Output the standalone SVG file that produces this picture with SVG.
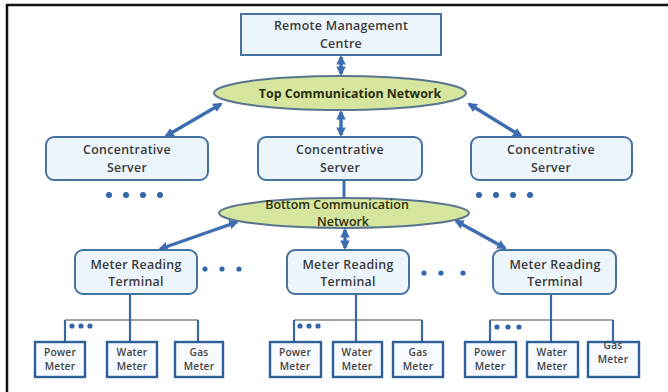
<svg xmlns="http://www.w3.org/2000/svg" width="668" height="392" viewBox="0 0 668 392">
  <defs>
    <marker id="head" viewBox="0 0 10 10" refX="8" refY="5" markerWidth="2.8" markerHeight="2.8" orient="auto-start-reverse" markerUnits="strokeWidth">
      <path d="M0,0 L10,5 L0,10 z" fill="#3d6db0"/>
    </marker>
    <style>
      .frame { stroke: #111; stroke-width: 2.5; fill: none; }
      .box { fill: #edf5fc; stroke: #46729f; stroke-width: 2; }
      .net { fill: #d7e69f; stroke: #5a7590; stroke-width: 2; }
      .meter { fill: #f7fbff; stroke: #2f5f98; stroke-width: 2.4; }
      .lbl { font-family: "Open Sans", "Liberation Sans", sans-serif; font-size: 12.4px; font-weight: 600; letter-spacing: 0.3px; fill: #3a3a3a; text-anchor: middle; }
      .net-lbl { font-family: "Open Sans", "Liberation Sans", sans-serif; font-size: 12.4px; font-weight: 700; fill: #2c2f10; text-anchor: middle; }
      .small { font-family: "Open Sans", "Liberation Sans", sans-serif; font-size: 10.2px; font-weight: 600; letter-spacing: 0.2px; fill: #444; text-anchor: middle; }
      .link { stroke: #3d6db0; stroke-width: 3.4; fill: none; marker-start: url(#head); marker-end: url(#head); }
      .plain { stroke: #3d6db0; stroke-width: 3; fill: none; }
      .drop { stroke: #3a68a4; stroke-width: 2.2; fill: none; }
      .bus { stroke: #a4a4a4; stroke-width: 2; fill: none; }
      .dot { fill: #3366aa; }
    </style>
  </defs>

  <rect width="668" height="392" fill="#ffffff"/>
  <!-- page frame -->
  <path class="frame" d="M7,392 V5 H668"/>

  <!-- connectors -->
  <g id="connectors">
    <line class="link" x1="341" y1="57" x2="341" y2="74"/>
    <line class="link" x1="221" y1="104" x2="166" y2="136"/>
    <line class="link" x1="341" y1="112" x2="341" y2="135"/>
    <line class="link" x1="469" y1="104" x2="521" y2="136"/>
    <line class="plain" x1="344" y1="181" x2="344" y2="198"/>
    <line class="link" x1="237" y1="222" x2="160" y2="249"/>
    <line class="link" x1="345" y1="230" x2="345" y2="248"/>
    <line class="link" x1="456" y1="221" x2="505" y2="248"/>

    <!-- meter buses, left group -->
    <line class="bus" x1="65" y1="320" x2="198" y2="320"/>
    <line class="drop" x1="130" y1="294" x2="130" y2="342"/>
    <line class="drop" x1="65" y1="320" x2="65" y2="342"/>
    <line class="drop" x1="198" y1="320" x2="198" y2="342"/>
    <!-- middle group -->
    <line class="bus" x1="294" y1="320" x2="422" y2="320"/>
    <line class="drop" x1="356" y1="294" x2="356" y2="342"/>
    <line class="drop" x1="294" y1="320" x2="294" y2="342"/>
    <line class="drop" x1="422" y1="320" x2="422" y2="342"/>
    <!-- right group -->
    <line class="bus" x1="490" y1="320" x2="613" y2="320"/>
    <line class="drop" x1="551" y1="294" x2="551" y2="342"/>
    <line class="drop" x1="490" y1="320" x2="490" y2="342"/>
    <line class="drop" x1="613" y1="320" x2="613" y2="342"/>
  </g>

  <!-- top level -->
  <g id="remote-management">
    <rect class="box" x="241" y="14" width="200" height="41"/>
    <text class="lbl" x="341" y="30">Remote Management</text>
    <text class="lbl" x="341" y="48">Centre</text>
  </g>

  <g id="top-network">
    <ellipse class="net" cx="340" cy="93" rx="126" ry="17"/>
    <text class="net-lbl" x="350" y="98">Top Communication  Network</text>
  </g>

  <!-- concentrative servers -->
  <g id="server-left">
    <rect class="box" x="46" y="137" width="162" height="43" rx="8"/>
    <text class="lbl" x="127" y="154">Concentrative</text>
    <text class="lbl" x="127" y="172">Server</text>
  </g>
  <g id="server-middle">
    <rect class="box" x="258" y="137" width="164" height="43" rx="8"/>
    <text class="lbl" x="340" y="154">Concentrative</text>
    <text class="lbl" x="340" y="172">Server</text>
  </g>
  <g id="server-right">
    <rect class="box" x="471" y="137" width="161" height="43" rx="8"/>
    <text class="lbl" x="551" y="154">Concentrative</text>
    <text class="lbl" x="551" y="172">Server</text>
  </g>

  <g id="server-dots-left">
    <circle class="dot" cx="109" cy="195" r="3"/>
    <circle class="dot" cx="126" cy="195" r="3"/>
    <circle class="dot" cx="143" cy="195" r="3"/>
    <circle class="dot" cx="160" cy="195" r="3"/>
  </g>
  <g id="server-dots-right">
    <circle class="dot" cx="479" cy="195" r="3"/>
    <circle class="dot" cx="496" cy="195" r="3"/>
    <circle class="dot" cx="513" cy="195" r="3"/>
    <circle class="dot" cx="530" cy="195" r="3"/>
  </g>

  <g id="bottom-network">
    <ellipse class="net" cx="344" cy="213" rx="125" ry="15"/>
    <text class="net-lbl" x="337" y="209" style="font-weight:600">Bottom Communication</text>
    <text class="net-lbl" x="343" y="226" style="font-weight:600">Network</text>
  </g>

  <!-- meter reading terminals -->
  <g id="terminal-left">
    <rect class="box" x="75" y="250" width="122" height="44" rx="8"/>
    <text class="lbl" x="136" y="269">Meter Reading</text>
    <text class="lbl" x="136" y="286">Terminal</text>
  </g>
  <g id="terminal-middle">
    <rect class="box" x="287" y="250" width="122" height="44" rx="8"/>
    <text class="lbl" x="348" y="269">Meter Reading</text>
    <text class="lbl" x="348" y="286">Terminal</text>
  </g>
  <g id="terminal-right">
    <rect class="box" x="493" y="250" width="123" height="44" rx="8"/>
    <text class="lbl" x="555" y="269">Meter Reading</text>
    <text class="lbl" x="555" y="286">Terminal</text>
  </g>

  <g id="terminal-dots-left">
    <circle class="dot" cx="205" cy="269" r="2.6"/>
    <circle class="dot" cx="222" cy="269" r="2.6"/>
    <circle class="dot" cx="239" cy="269" r="2.6"/>
  </g>
  <g id="terminal-dots-middle">
    <circle class="dot" cx="424" cy="273" r="2.6"/>
    <circle class="dot" cx="441" cy="273" r="2.6"/>
    <circle class="dot" cx="463" cy="273" r="2.6"/>
  </g>

  <!-- meters, left group -->
  <g id="meter-dots-left">
    <circle class="dot" cx="72" cy="326" r="2.6"/>
    <circle class="dot" cx="81" cy="326" r="2.6"/>
    <circle class="dot" cx="90" cy="326" r="2.6"/>
  </g>
  <g id="power-left">
    <rect class="meter" x="35" y="342" width="50" height="35"/>
    <text class="small" x="60" y="356">Power</text>
    <text class="small" x="60" y="370">Meter</text>
  </g>
  <g id="water-left">
    <rect class="meter" x="107" y="342" width="50" height="35"/>
    <text class="small" x="132" y="356">Water</text>
    <text class="small" x="132" y="370">Meter</text>
  </g>
  <g id="gas-left">
    <rect class="meter" x="175" y="342" width="48" height="35"/>
    <text class="small" x="199" y="356">Gas</text>
    <text class="small" x="199" y="370">Meter</text>
  </g>

  <!-- meters, middle group -->
  <g id="meter-dots-middle">
    <circle class="dot" cx="300" cy="326" r="2.6"/>
    <circle class="dot" cx="309" cy="326" r="2.6"/>
    <circle class="dot" cx="318" cy="326" r="2.6"/>
  </g>
  <g id="power-middle">
    <rect class="meter" x="270" y="342" width="51" height="35"/>
    <text class="small" x="295" y="356">Power</text>
    <text class="small" x="295" y="370">Meter</text>
  </g>
  <g id="water-middle">
    <rect class="meter" x="333" y="342" width="49" height="35"/>
    <text class="small" x="357" y="356">Water</text>
    <text class="small" x="357" y="370">Meter</text>
  </g>
  <g id="gas-middle">
    <rect class="meter" x="393" y="342" width="50" height="35"/>
    <text class="small" x="418" y="356">Gas</text>
    <text class="small" x="418" y="370">Meter</text>
  </g>

  <!-- meters, right group -->
  <g id="meter-dots-right">
    <circle class="dot" cx="497" cy="327" r="2.6"/>
    <circle class="dot" cx="508" cy="327" r="2.6"/>
    <circle class="dot" cx="519" cy="327" r="2.6"/>
  </g>
  <g id="power-right">
    <rect class="meter" x="465" y="342" width="51" height="35"/>
    <text class="small" x="490" y="356">Power</text>
    <text class="small" x="490" y="370">Meter</text>
  </g>
  <g id="water-right">
    <rect class="meter" x="527" y="342" width="51" height="35"/>
    <text class="small" x="552" y="356">Water</text>
    <text class="small" x="552" y="370">Meter</text>
  </g>
  <g id="gas-right">
    <rect class="meter" x="588" y="342" width="51" height="35"/>
    <text class="small" x="613" y="349">Gas</text>
    <text class="small" x="613" y="363">Meter</text>
  </g>
</svg>
